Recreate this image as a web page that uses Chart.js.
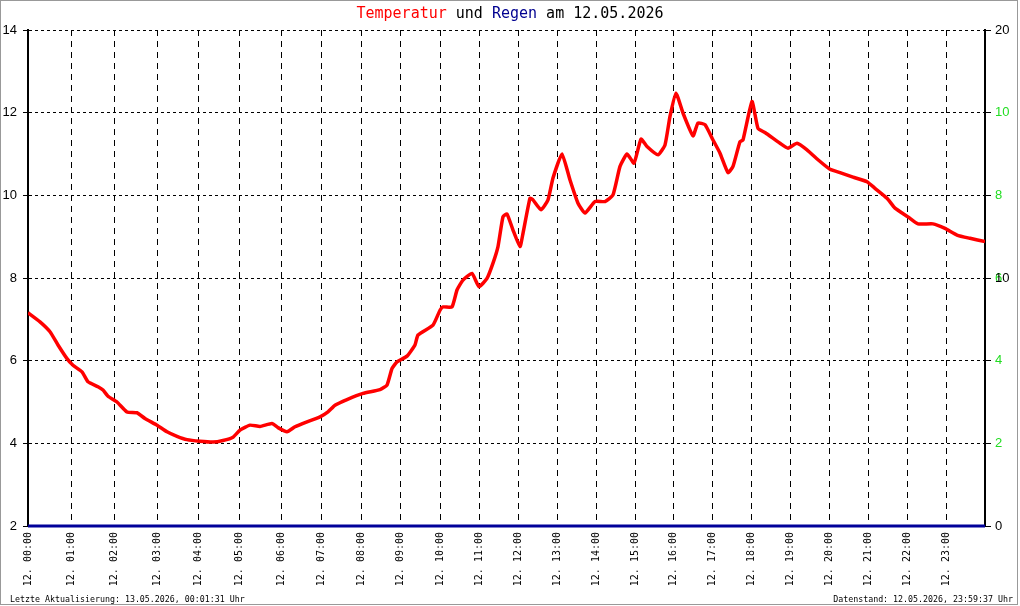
<!DOCTYPE html>
<html>
<head>
<meta charset="utf-8">
<script src="https://cdn.jsdelivr.net/npm/chart.js@4.4.1/dist/chart.umd.min.js"></script>
<style>
  body { margin: 0; background: #fff; }
  #wrap { position: relative; width: 1020px; height: 606px; }
  #frame { position: absolute; left: 0; top: 0; width: 1018px; height: 605px; border: 1px solid #999; box-sizing: border-box; pointer-events: none; }
  .mono { font-family: "DejaVu Sans Mono", monospace; position: absolute; white-space: pre; color: #000; }
  #title { left: 0; top: 6px; width: 1020px; text-align: center; font-size: 15px; line-height: 15px; }
  #footL { left: 10px; top: 595px; font-size: 8.3px; line-height: 9px; }
  #footR { right: 7px; top: 595px; font-size: 8.3px; line-height: 9px; }
</style>
</head>
<body>
<div id="wrap">
  <canvas id="chart" width="1020" height="606"></canvas>
  <div id="title" class="mono"><span style="color:#ff0000">Temperatur</span> und <span style="color:#000090">Regen</span> am 12.05.2026</div>
  <div id="footL" class="mono">Letzte Aktualisierung: 13.05.2026, 00:01:31 Uhr</div>
  <div id="footR" class="mono">Datenstand: 12.05.2026, 23:59:37 Uhr</div>
  <div id="frame"></div>
</div>
<script>
// x axis is the running sample number of the day, hours start at these samples
const hourTicks = [0, 43, 86, 129, 170, 211, 253, 293, 333, 372, 412, 451,
                   490, 529, 568, 607, 645, 684, 723, 762, 801, 840, 879, 918];
const lastSample = 957;
const hourLabels = ['12. 00:00', '12. 01:00', '12. 02:00', '12. 03:00', '12. 04:00', '12. 05:00',
                    '12. 06:00', '12. 07:00', '12. 08:00', '12. 09:00', '12. 10:00', '12. 11:00',
                    '12. 12:00', '12. 13:00', '12. 14:00', '12. 15:00', '12. 16:00', '12. 17:00',
                    '12. 18:00', '12. 19:00', '12. 20:00', '12. 21:00', '12. 22:00', '12. 23:00'];

// temperature (°C)
const sampleIdx = [0, 12, 22, 30, 39, 45, 54, 60, 70, 75, 80, 89, 99, 109, 117, 129, 139, 149, 159, 172,
                   185, 195, 205, 212, 222, 232, 244, 250, 259, 267, 279, 292, 300, 307, 319, 335, 352, 359, 364, 369,
                   379, 387, 390, 405, 412, 415, 424, 429, 435, 444, 451, 459, 465, 470, 475, 479, 485, 492, 495, 502,
                   505, 513, 520, 525, 534, 542, 550, 557, 567, 577, 585, 592, 599, 606, 613, 619, 630, 637, 642, 648,
                   655, 665, 670, 677, 685, 692, 700, 705, 712, 715, 724, 730, 737, 752, 760, 769, 779, 790, 802, 812,
                   825, 839, 847, 859, 867, 880, 890, 905, 917, 929, 942, 957];
const tempValues = [7.16, 6.94, 6.70, 6.38, 6.05, 5.89, 5.73, 5.49, 5.37, 5.29, 5.14, 5.00, 4.76, 4.74, 4.60, 4.44, 4.28, 4.17, 4.09, 4.05,
                    4.03, 4.07, 4.15, 4.32, 4.44, 4.41, 4.48, 4.38, 4.28, 4.40, 4.52, 4.64, 4.76, 4.92, 5.06, 5.21, 5.30, 5.41, 5.81, 5.97,
                    6.11, 6.38, 6.62, 6.86, 7.22, 7.30, 7.30, 7.71, 7.95, 8.11, 7.79, 7.99, 8.36, 8.76, 9.48, 9.55, 9.16, 8.76, 9.08, 9.93,
                    9.89, 9.65, 9.89, 10.42, 11.00, 10.37, 9.81, 9.57, 9.85, 9.85, 10.01, 10.70, 11.00, 10.78, 11.36, 11.18, 10.98, 11.22, 11.91, 12.47,
                    11.99, 11.44, 11.75, 11.71, 11.34, 11.02, 10.55, 10.70, 11.30, 11.34, 12.27, 11.62, 11.52, 11.26, 11.14, 11.26, 11.10, 10.86, 10.63, 10.55,
                    10.44, 10.33, 10.17, 9.93, 9.69, 9.48, 9.31, 9.31, 9.20, 9.04, 8.96, 8.88];

// rain (mm), none that day
const rainIdx = [0, 957];
const rainValues = [0, 0];

const tempMin = 2, tempMax = 14, tempStep = 2;
const rainTicks = [0, 10, 20];
const rainMax = 20;
// green scale on the right side, 0..12
const greenTicks = [2, 4, 6, 8, 10];
const greenMax = 12;

const tempData = sampleIdx.map((x, i) => ({x: x, y: tempValues[i]}));
const rainData = rainIdx.map((x, i) => ({x: x, y: rainValues[i]}));

const ctx = document.getElementById('chart').getContext('2d');
new Chart(ctx, {
    type: 'line',
    data: {
        datasets: [{
            label: 'Regen',
            data: rainData,
            yAxisID: 'yR',
            borderColor: '#000099',
            borderWidth: 3,
            pointRadius: 0,
            clip: false
        }, {
            label: 'Temperatur',
            data: tempData,
            yAxisID: 'y',
            borderColor: '#ff0000',
            borderWidth: 3.5,
            pointRadius: 0,
            tension: 0.15
        }]
    },
    options: {
        responsive: false,
        animation: false,
        devicePixelRatio: 1,
        layout: { padding: { top: 30, left: 0, right: 0, bottom: 0 } },
        plugins: { legend: { display: false }, tooltip: { enabled: false } },
        scales: {
            x: {
                type: 'linear',
                min: 0,
                max: lastSample,
                afterBuildTicks: s => { s.ticks = hourTicks.map(v => ({value: v})); },
                afterFit: s => { s.height = 80; },
                grid: { color: '#000', lineWidth: 1, drawTicks: false },
                border: { display: true, color: '#000', width: 2, dash: [6, 5] },
                ticks: {
                    autoSkip: false,
                    minRotation: 90,
                    maxRotation: 90,
                    padding: 6,
                    color: '#000',
                    font: { family: 'DejaVu Sans Mono', size: 10 },
                    callback: (v, i) => hourLabels[i]
                }
            },
            y: {
                position: 'left',
                min: tempMin,
                max: tempMax,
                afterFit: s => { s.width = 28; },
                grid: { color: '#000', lineWidth: 1, tickLength: 5, tickColor: '#000', tickBorderDash: [] },
                border: { display: true, color: '#000', width: 2, dash: [3, 3] },
                ticks: {
                    stepSize: tempStep,
                    padding: 6,
                    color: '#000',
                    font: { family: 'Liberation Sans', size: 13 }
                }
            },
            yR: {
                position: 'right',
                min: 0,
                max: rainMax,
                afterBuildTicks: s => {
                    const t = greenTicks.map(g => ({value: g * rainMax / greenMax, green: true, text: String(g)}));
                    rainTicks.forEach(v => t.push({value: v, green: false, text: String(v)}));
                    s.ticks = t;
                },
                afterFit: s => { s.width = 35; },
                grid: { drawOnChartArea: false, tickLength: 6, tickColor: '#000', tickBorderDash: [] },
                border: { display: true, color: '#000', width: 2 },
                ticks: {
                    autoSkip: false,
                    padding: 4,
                    color: c => (c.tick && c.tick.green) ? '#22dd22' : '#000',
                    font: { family: 'Liberation Sans', size: 13 },
                    callback: (v, i, ticks) => ticks[i].text
                }
            }
        }
    }
});
</script>
</body>
</html>
